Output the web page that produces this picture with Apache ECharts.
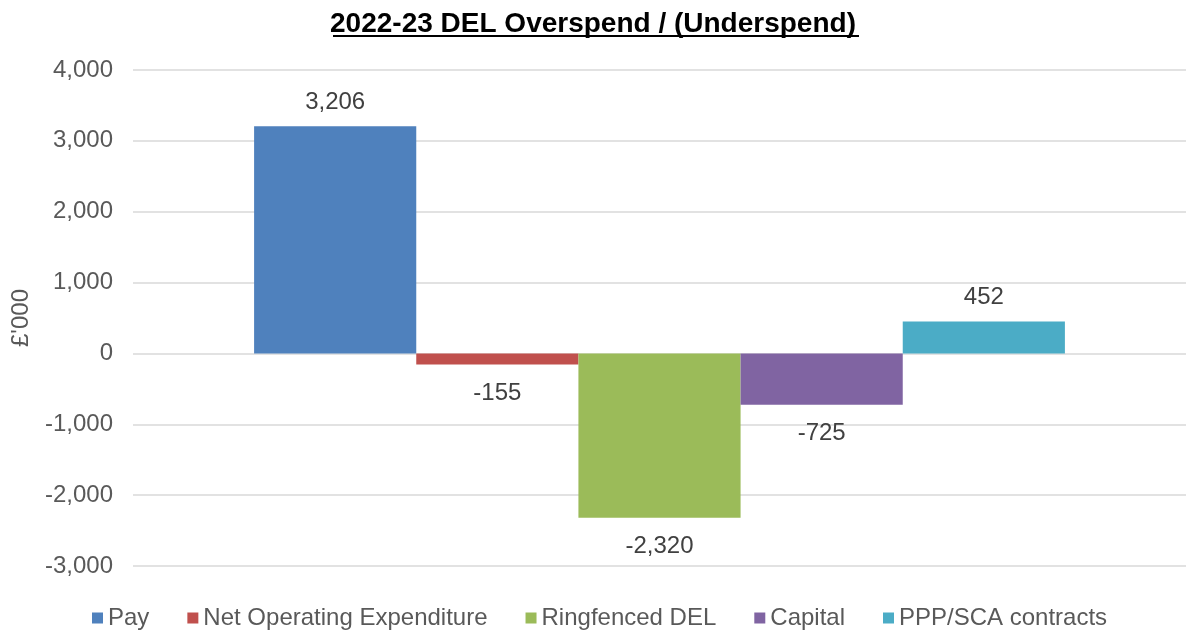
<!DOCTYPE html>
<html>
<head>
<meta charset="utf-8">
<script src="https://cdn.jsdelivr.net/npm/echarts@6/dist/echarts.min.js"></script>
<style>html,body{margin:0;padding:0;background:#fff;}#c{width:1186px;height:633px;}</style>
</head>
<body>
<div id="c"></div>
<script>
var seriesNames = ['Pay', 'Net Operating Expenditure', 'Ringfenced DEL', 'Capital', 'PPP/SCA contracts'];
var seriesValues = [3206, -155, -2320, -725, 452];
var seriesColors = ['#4F81BD', '#C0504D', '#9BBB59', '#8064A2', '#4BACC6'];
var yTicks = { min: -3000, max: 4000, interval: 1000 };

var chart = echarts.init(document.getElementById('c'));
var FONT = '"Liberation Sans", Arial, sans-serif';
var series = seriesNames.map(function (n, i) {
  var v = seriesValues[i];
  return {
    name: n,
    type: 'bar',
    barGap: '0%',
    barCategoryGap: '23%',
    itemStyle: { color: seriesColors[i] },
    label: {
      show: true,
      position: v >= 0 ? 'top' : 'bottom',
      distance: v >= 0 ? 12 : 17,
      color: '#404040',
      fontSize: 24,
      fontFamily: FONT,
      formatter: function (p) { return echarts.format.addCommas(p.value); }
    },
    data: [v]
  };
});
chart.setOption({
  animation: false,
  title: {
    text: '2022-23 DEL Overspend / (Underspend)',
    left: 'center',
    top: 5,
    textStyle: { fontSize: 28, fontWeight: 'bold', color: '#000', fontFamily: FONT }
  },
  graphic: [{
    type: 'line',
    shape: { x1: 333, y1: 36, x2: 859, y2: 36 },
    style: { stroke: '#000', lineWidth: 2 }
  }],
  legend: {
    top: 601,
    left: 87,
    itemWidth: 11,
    itemHeight: 11,
    itemGap: 38,
    icon: 'rect',
    textStyle: { fontSize: 24, color: '#595959', fontFamily: FONT }
  },
  grid: { left: 133, right: 0, top: 70, bottom: 67 },
  xAxis: {
    type: 'category',
    data: [''],
    axisLine: { show: false },
    axisTick: { show: false },
    axisLabel: { show: false }
  },
  yAxis: {
    type: 'value',
    min: yTicks.min,
    max: yTicks.max,
    interval: yTicks.interval,
    name: "£'000",
    nameLocation: 'middle',
    nameGap: 100,
    nameTextStyle: { fontSize: 24, color: '#595959', fontFamily: FONT },
    axisLabel: { fontSize: 24, color: '#595959', fontFamily: FONT, margin: 20 },
    splitLine: { lineStyle: { color: '#d9d9d9', width: 1.5 } }
  },
  series: series
});
</script>
</body>
</html>
